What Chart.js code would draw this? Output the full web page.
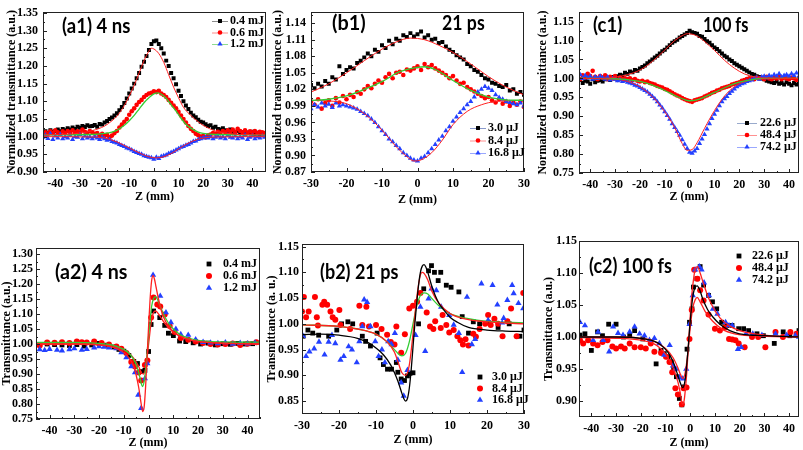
<!DOCTYPE html>
<html>
<head>
<meta charset="utf-8">
<script src="https://cdn.jsdelivr.net/npm/chart.js@4.4.1/dist/chart.umd.min.js"></script>
<style>
  body { margin: 0; background: #fff; }
  #wrap { position: relative; width: 803px; height: 450px; overflow: hidden; background: #fff; }
  canvas { position: absolute; }
  .tag { position: absolute; font-family: Lato, "Open Sans", sans-serif; font-weight: bold; font-size: 21px; line-height: 22px; color: #000; white-space: nowrap; transform-origin: 0 50%; }
</style>
</head>
<body>
<div id="wrap">
  <canvas id="a1" width="270" height="218" style="left:0px;top:0px"></canvas>
  <canvas id="b1" width="270" height="218" style="left:265px;top:0px"></canvas>
  <canvas id="c1" width="273" height="218" style="left:530px;top:0px"></canvas>
  <canvas id="a2" width="270" height="228" style="left:0px;top:225px"></canvas>
  <canvas id="b2" width="270" height="228" style="left:265px;top:225px"></canvas>
  <canvas id="c2" width="273" height="228" style="left:530px;top:225px"></canvas>
  <div class="tag" data-w="68" style="left:62px;top:14px">(a1) 4 ns</div>
  <div class="tag" data-w="34" style="left:332px;top:11px">(b1)</div>
  <div class="tag" data-w="43" style="left:442px;top:11px">21 ps</div>
  <div class="tag" data-w="29" style="left:593px;top:13px">(c1)</div>
  <div class="tag" data-w="45" style="left:703px;top:13px">100 fs</div>
  <div class="tag" data-w="72" style="left:55px;top:260px">(a2) 4 ns</div>
  <div class="tag" data-w="78" style="left:320px;top:260px">(b2) 21 ps</div>
  <div class="tag" data-w="83" style="left:589px;top:254px">(c2) 100 fs</div>
</div>
<script>
// ---- data ----
const zTop = [-45,-44,-43,-42,-41,-40,-39,-38,-37,-36,-35,-34,-33,-32,-31,-30,-29,-28,-27,-26,
  -25,-24,-23,-22,-21,-20,-19,-18,-17,-16,-15,-14,-13,-12,-11,-10,-9,-8,-7,-6,
  -5,-4,-3,-2,-1,0,1,2,3,4,5,6,7,8,9,10,11,12,13,14,15,16,17,18,19,20,21,22,23,24,
  25,26,27,28,29,30,31,32,33,34,35,36,37,38,39,40,41,42,43,44,45];
const zB1 = [-30,-29,-28,-27,-26,-25,-24,-23,-22,-21,-20,-19,-18,-17,-16,-15,-14,-13,-12,-11,
  -10,-9,-8,-7,-6,-5,-4,-3,-2,-1,0,1,2,3,4,5,6,7,8,9,10,11,12,13,14,15,16,17,18,19,20,
  21,22,23,24,25,26,27,28,29,30];

const zTicksWide = [-40, -30, -20, -10, 0, 10, 20, 30, 40];
const zTicksNarrow = [-30, -20, -10, 0, 10, 20, 30];
const tTicksA1 = [0.90, 0.95, 1.00, 1.05, 1.10, 1.15, 1.20, 1.25, 1.30, 1.35];
const tTicksB1 = [0.87, 0.90, 0.93, 0.96, 0.99, 1.02, 1.05, 1.08, 1.11, 1.14];
const tTicksC1 = [0.75, 0.80, 0.85, 0.90, 0.95, 1.00, 1.05, 1.10, 1.15];
const tTicksA2 = [0.75, 0.80, 0.85, 0.90, 0.95, 1.00, 1.05, 1.10, 1.15, 1.20, 1.25, 1.30];
const tTicksB2 = [0.85, 0.90, 0.95, 1.00, 1.05, 1.10, 1.15];
const tTicksC2 = [0.90, 0.95, 1.00, 1.05, 1.10, 1.15];

const energyA = ["0.4 mJ", "0.6 mJ", "1.2 mJ"];
const energyB = ["3.0 μJ", "8.4 μJ", "16.8 μJ"];
const energyC = ["22.6 μJ", "48.4 μJ", "74.2 μJ"];

// (a1) 4 ns, open aperture
const a1T04 = [1.012,1.015,1.010,1.018,1.014,1.016,1.020,1.015,1.022,1.018,
  1.024,1.020,1.026,1.022,1.028,1.025,1.030,1.027,1.032,1.029,
  1.030,1.033,1.028,1.036,1.034,1.040,1.044,1.050,1.054,1.060,
  1.066,1.075,1.084,1.095,1.108,1.122,1.136,1.150,1.165,1.180,
  1.198,1.212,1.228,1.245,1.262,1.270,1.272,1.262,1.250,1.235,
  1.215,1.200,1.180,1.165,1.148,1.130,1.115,1.100,1.088,1.078,
  1.068,1.060,1.055,1.048,1.042,1.040,1.035,1.030,1.032,1.025,
  1.028,1.022,1.020,1.024,1.018,1.016,1.020,1.014,1.012,1.016,
  1.010,1.013,1.008,1.012,1.010,1.014,1.008,1.011,1.006,1.010,1.008];
const a1T06 = [1.005,1.012,1.008,1.015,1.010,1.018,1.012,1.008,1.015,1.010,
  1.016,1.012,1.018,1.010,1.015,1.012,1.020,1.014,1.010,1.016,
  1.012,1.008,1.010,1.004,1.008,1.002,1.005,0.998,1.003,1.010,
  1.016,1.026,1.034,1.042,1.050,1.062,1.072,1.080,1.090,1.098,
  1.104,1.112,1.118,1.122,1.124,1.128,1.126,1.130,1.122,1.118,
  1.112,1.104,1.096,1.088,1.080,1.070,1.060,1.050,1.040,1.030,
  1.022,1.016,1.008,1.004,1.000,1.002,0.998,1.004,1.006,1.010,
  1.008,1.014,1.010,1.016,1.012,1.018,1.014,1.020,1.012,1.022,
  1.016,1.012,1.018,1.010,1.015,1.012,1.016,1.010,1.014,1.012,1.010];
const a1T12 = [0.998,1.004,0.995,1.008,0.992,1.002,0.996,1.006,0.994,1.000,
  0.996,1.004,0.992,1.000,0.998,1.006,0.994,1.002,0.996,1.000,
  0.994,1.000,0.996,0.992,0.998,0.994,0.990,0.992,0.986,0.984,
  0.982,0.978,0.975,0.972,0.968,0.966,0.962,0.958,0.955,0.952,
  0.950,0.946,0.944,0.942,0.940,0.936,0.942,0.938,0.944,0.946,
  0.948,0.952,0.955,0.958,0.962,0.966,0.970,0.972,0.976,0.978,
  0.982,0.986,0.988,0.992,0.994,0.996,0.998,0.996,1.000,0.994,
  0.998,1.002,0.996,1.000,0.994,1.004,0.998,0.996,1.002,0.994,
  1.000,0.996,1.004,0.992,0.998,1.002,0.994,1.000,0.996,1.002,0.998];
const a1FitZ04 = [-45,-35,-30,-25,-20,-17,-15,-12,-10,-8,-6,-4,-2,-1,0,2,4,6,8,10,12,15,18,20,25,30,35,45];
const a1FitT04 = [1.005,1.007,1.010,1.017,1.030,1.045,1.058,1.088,1.115,1.145,1.180,1.215,1.242,1.250,1.248,1.235,1.210,1.175,1.140,1.110,1.083,1.060,1.042,1.032,1.016,1.009,1.006,1.005];
const a1FitZ06 = [-45,-25,-20,-17,-15,-12,-10,-8,-6,-4,-2,0,1.5,3,5,7,9,11,13,15,18,20,25,45];
const a1FitT06 = [1.005,1.006,1.009,1.013,1.018,1.032,1.045,1.060,1.078,1.096,1.110,1.121,1.124,1.120,1.108,1.090,1.072,1.052,1.035,1.024,1.013,1.009,1.006,1.005];
const a1FitZ12 = [-45,-25,-20,-15,-10,-5,-2,1,4,7,10,13,16,20,25,45];
const a1FitT12 = [1.000,0.999,0.996,0.985,0.968,0.951,0.943,0.940,0.943,0.952,0.965,0.978,0.988,0.996,0.999,1.000];

// (b1) 21 ps
const b1T30 = [1.028,1.022,1.030,1.025,1.035,1.030,1.042,1.038,1.062,1.048,
  1.055,1.060,1.058,1.068,1.072,1.078,1.085,1.080,1.092,1.088,
  1.100,1.095,1.108,1.102,1.112,1.108,1.118,1.115,1.122,1.116,
  1.120,
  1.125,1.114,1.118,1.110,1.112,1.104,1.106,1.098,1.092,1.088,
  1.082,1.078,1.074,1.066,1.062,1.055,1.052,1.046,1.040,1.038,
  1.032,1.030,1.026,1.024,1.028,1.018,1.020,1.012,1.015,1.010];
const b1T84 = [0.998,0.992,1.002,0.985,0.995,1.000,0.990,1.004,0.996,1.008,
  1.002,1.010,1.006,1.015,1.012,1.020,1.026,1.022,1.030,1.036,
  1.032,1.042,1.048,1.040,1.050,1.052,1.046,1.056,1.054,1.058,
  1.062,
  1.055,1.066,1.060,1.064,1.058,1.054,1.050,1.046,1.040,1.044,
  1.036,1.030,1.032,1.024,1.020,1.016,1.012,1.008,1.004,1.006,
  1.000,0.996,1.002,0.994,0.998,0.990,0.996,0.992,0.998,0.988];
const b1T168 = [0.985,0.992,0.988,0.995,0.990,0.993,0.987,0.995,0.990,0.992,
  0.990,0.988,0.986,0.984,0.980,0.976,0.972,0.966,0.960,0.952,
  0.945,0.938,0.930,0.925,0.918,0.912,0.905,0.900,0.895,0.892,
  0.890,
  0.895,0.898,0.905,0.912,0.920,0.928,0.935,0.945,0.952,0.962,
  0.970,0.978,0.985,0.992,0.998,1.006,1.015,1.020,1.025,1.022,
  1.018,1.010,1.005,1.002,0.998,0.996,0.994,0.992,0.995,0.990];
const b1FitZ30 = [-30,-25,-20,-15,-10,-6,-2,2,6,10,15,20,25,30];
const b1FitT30 = [1.015,1.030,1.050,1.072,1.093,1.106,1.113,1.110,1.100,1.087,1.066,1.043,1.024,1.010];
const b1FitZ84 = [-30,-25,-20,-15,-10,-5,0,2,5,10,15,20,25,30];
const b1FitT84 = [1.000,1.002,1.008,1.020,1.034,1.052,1.060,1.061,1.056,1.036,1.018,1.006,1.001,1.000];
const b1FitZ168 = [-30,-25,-20,-15,-10,-6,-3,-1,1,4,7,10,14,18,22,30];
const b1FitT168 = [1.000,0.999,0.994,0.976,0.946,0.916,0.898,0.890,0.892,0.905,0.928,0.956,0.980,0.992,0.998,1.000];

// (c1) 100 fs
const c1T226 = [0.990,0.996,0.988,0.994,0.992,0.986,0.998,0.990,0.994,0.996,
  0.992,0.998,1.000,0.996,1.004,1.000,1.006,1.010,1.008,1.015,
  1.012,1.018,1.016,1.022,1.020,1.026,1.030,1.034,1.040,1.045,
  1.050,1.055,1.060,1.066,1.072,1.076,1.082,1.088,1.094,1.098,
  1.102,1.108,1.112,1.116,1.120,1.126,1.122,1.120,1.118,1.112,
  1.110,1.104,1.098,1.094,1.088,1.082,1.078,1.072,1.066,1.060,
  1.056,1.050,1.046,1.040,1.036,1.032,1.028,1.024,1.020,1.016,
  1.012,1.010,1.006,1.004,1.000,0.998,0.994,0.992,0.990,0.988,
  0.992,0.986,0.988,0.984,0.990,0.986,0.982,0.988,0.984,0.986,0.984];
const c1T484 = [1.004,0.998,1.008,1.002,1.012,1.006,1.020,1.004,0.998,1.006,
  1.002,1.008,0.998,1.004,1.000,1.006,0.996,1.002,0.998,1.000,
  0.998,1.000,0.996,0.998,0.994,0.992,0.994,0.990,0.992,0.988,
  0.986,0.984,0.980,0.978,0.976,0.972,0.970,0.966,0.962,0.958,
  0.955,0.952,0.948,0.945,0.942,0.940,0.938,0.942,0.944,0.946,
  0.948,0.952,0.955,0.958,0.962,0.964,0.968,0.970,0.974,0.976,
  0.978,0.980,0.984,0.986,0.988,0.990,0.994,0.996,0.998,1.000,
  1.000,0.998,1.002,1.000,1.002,0.998,1.004,1.000,0.998,1.002,
  1.000,1.004,0.998,1.002,1.000,0.998,1.002,1.000,0.996,1.000,1.002];
const c1T742 = [1.004,1.010,1.000,1.008,1.002,1.006,0.998,1.004,1.000,1.006,
  1.002,0.998,1.004,0.996,1.000,0.998,0.994,0.996,0.992,0.994,
  0.990,0.988,0.986,0.982,0.980,0.976,0.972,0.968,0.964,0.958,
  0.952,0.946,0.938,0.930,0.922,0.912,0.902,0.892,0.880,0.870,
  0.860,0.850,0.838,0.826,0.815,0.805,0.802,0.808,0.815,0.828,
  0.840,0.852,0.866,0.880,0.894,0.905,0.916,0.928,0.938,0.946,
  0.952,0.960,0.966,0.972,0.978,0.982,0.986,0.988,0.992,0.994,
  0.996,1.000,1.002,0.998,1.004,1.006,1.002,1.008,1.004,1.010,
  1.006,1.012,1.004,1.008,1.010,1.006,1.012,1.008,1.014,1.006,1.010];
const c1FitZ226 = [-45,-35,-30,-25,-20,-15,-10,-6,-3,-1,1,4,7,10,14,18,22,26,30,45];
const c1FitT226 = [1.000,1.000,1.003,1.010,1.022,1.045,1.075,1.100,1.113,1.118,1.117,1.108,1.092,1.074,1.048,1.027,1.012,1.004,1.001,1.000];
const c1FitZ484 = [-45,-30,-25,-20,-15,-10,-5,-2,0,2,5,10,15,20,25,30,45];
const c1FitT484 = [1.000,0.999,0.997,0.992,0.982,0.968,0.952,0.944,0.941,0.942,0.948,0.963,0.978,0.990,0.997,1.000,1.000];
const c1FitZ742 = [-45,-30,-25,-20,-15,-10,-6,-3,-1,1,3,6,10,14,18,22,27,32,45];
const c1FitT742 = [1.000,0.998,0.992,0.978,0.952,0.912,0.870,0.828,0.810,0.812,0.830,0.868,0.915,0.953,0.978,0.991,0.998,1.000,1.000];

// (a2) 4 ns, closed aperture
const a2Z04 = [-44,-41,-38,-35,-32,-29,-26,-23,-20,-17,-14,-12,-10,-8,-6,-4.5,-3,-1.5,0,1,2,4.5,6.5,8,10,12.5,15,18,21,24,27,30,33,36,39,42];
const a2T04 = [0.998,1.000,0.998,0.997,0.995,0.998,0.993,0.997,1.002,0.996,0.990,0.982,0.976,0.962,0.942,0.935,0.908,0.912,0.975,1.065,1.110,1.088,1.062,1.036,1.028,1.010,1.008,1.004,1.000,1.003,0.997,1.001,0.999,1.002,1.000,1.001];
const a2Z06 = [-44,-41,-38,-35,-32,-29,-27,-25,-22,-19,-16,-13,-11,-9,-7,-5.5,-4,-3,-1.5,-0.5,1,2,3.5,4.7,6.5,8.5,10.5,13,16,19,22,25,28,31,34,37,40,43.5];
const a2T06 = [0.995,1.005,1.004,1.006,1.003,1.008,1.006,1.005,1.008,1.003,0.998,0.992,0.984,0.970,0.940,0.925,0.905,0.878,0.930,0.945,1.088,1.155,1.132,1.125,1.098,1.060,1.040,1.020,1.014,1.008,1.003,1.000,0.998,1.000,1.002,0.997,1.001,1.006];
const a2Z12 = [-44,-42,-40,-37,-35,-32,-30,-27,-25,-22,-20,-18,-16,-13,-11,-9,-7,-5.5,-4.2,-3,-1.5,-0.5,1.8,4.7,7,9,11,13,16,19,22,25,28,31,34,37,40,43];
const a2T12 = [0.982,0.979,0.983,0.980,0.978,0.982,0.985,0.980,0.983,0.988,0.992,0.990,0.988,0.985,0.972,0.955,0.925,0.905,0.830,0.786,0.885,0.935,1.230,1.160,1.105,1.072,1.050,1.032,1.030,1.015,1.006,1.004,1.002,1.005,1.000,1.003,1.001,1.004];
const a2FitZ12 = [-45,-30,-20,-15,-10,-8,-6,-5,-4,-3,-2.4,-1.8,-1.2,-0.6,0,0.6,1.2,1.8,2.4,3,4,5,6,8,10,13,16,20,25,30,45];
const a2FitT12 = [1.000,1.000,0.997,0.990,0.972,0.955,0.925,0.895,0.855,0.800,0.775,0.790,0.860,0.960,1.060,1.150,1.210,1.228,1.215,1.190,1.150,1.115,1.090,1.060,1.040,1.025,1.016,1.009,1.005,1.003,1.000];
const a2FitZ06 = [-45,-30,-20,-15,-10,-8,-6,-5,-4,-3,-2.5,-1.8,-1,-0.3,0.5,1.2,2,2.8,3.5,4.5,6,8,10,13,16,20,25,45];
const a2FitT06 = [1.005,1.005,1.002,0.997,0.982,0.970,0.948,0.930,0.905,0.870,0.858,0.875,0.930,1.000,1.070,1.125,1.152,1.158,1.150,1.130,1.100,1.070,1.050,1.030,1.020,1.012,1.008,1.006];
const a2FitZ04 = [-45,-30,-20,-15,-10,-8,-6,-4,-3,-2,-1,0,1,2,2.8,4,6,8,10,13,16,20,30,45];
const a2FitT04 = [1.000,1.000,0.998,0.994,0.980,0.970,0.952,0.925,0.905,0.900,0.930,1.000,1.070,1.105,1.110,1.100,1.075,1.055,1.040,1.025,1.015,1.008,1.003,1.000];

// (b2) 21 ps
const b2Z30 = [-29.7,-28.4,-27.1,-25.5,-22.8,-20.6,-19.3,-17.6,-16.3,-13.7,-12.8,-11.5,-9.7,-8.9,-8,-6.9,-5.8,-4.5,-4.1,-3.2,-2.3,-1.5,-0.8,0,1.5,2.9,4.2,5,5.8,6.8,7.5,9,10.3,12.4,13.3,15,16.3,18,20.5,23,26,28.9,30];
const b2T30 = [0.976,0.988,0.982,0.978,0.976,0.988,1.000,1.004,1.000,0.976,0.966,0.957,0.982,0.934,0.921,0.912,0.912,0.925,0.906,0.893,0.890,0.899,0.904,0.905,1.000,1.068,1.103,1.113,1.100,1.084,1.100,1.075,1.071,1.062,1.014,0.982,1.004,1.000,1.002,0.993,1.000,0.976,0.988];
const b2Z84 = [-30,-29.5,-28.9,-28.2,-26.5,-26,-25.7,-24.5,-24,-23.2,-22.3,-21.7,-21,-19.9,-19.6,-17,-14.5,-13.7,-12.6,-11.9,-10,-8.5,-7,-6,-5,-4.5,-3.2,-2.2,-1,0,1.1,2,3.7,4.6,5.5,6,7.5,8,9,9.8,11,12,12.8,13.5,14.2,15,16.3,17,18,19.5,20.3,21,22,23,24.2,25.5,26.5,28,29.8];
const b2T84 = [1.024,1.052,1.013,1.024,1.052,1.013,0.997,1.037,1.043,1.037,1.024,1.013,1.008,1.027,0.998,0.990,1.035,0.998,1.033,0.995,0.998,0.990,0.979,0.965,0.960,0.995,0.944,0.980,1.030,1.035,1.043,1.060,1.022,0.995,0.990,1.005,0.992,1.017,0.998,0.983,0.988,0.976,0.968,0.960,0.970,0.958,0.981,0.975,0.990,1.000,1.017,0.998,1.010,1.000,0.976,1.005,1.030,0.976,1.060];
const b2Z168 = [-29.7,-28.9,-28,-26.7,-25.4,-23.9,-22.8,-21.9,-21,-19.6,-18.7,-17.4,-16.5,-15.2,-14.5,-13.7,-13.2,-12.4,-11.5,-10.2,-9.3,-8.4,-7.6,-6.7,-5.8,-4.9,-4.1,-3.2,-2.5,-1.5,0.7,2,3.3,4.2,5,6.3,7.6,9.8,11,12.4,13.3,14.6,15.9,16.8,18.5,20.3,21.5,22.8,24.1,24.5,25.5,26.8,27.2,28.5,29.8];
const b2T168 = [0.976,0.937,0.946,0.952,0.965,0.940,0.965,0.978,0.962,0.930,0.937,0.956,0.950,0.925,0.966,0.995,1.047,1.042,0.995,0.966,0.937,0.950,0.925,0.966,0.960,0.982,0.930,0.886,0.860,0.910,0.978,1.033,0.947,1.049,1.068,1.065,1.033,1.017,0.998,0.982,0.906,1.052,0.960,0.970,1.078,1.007,1.075,1.037,1.002,1.011,1.046,1.075,1.059,1.040,1.030];
const b2FitZ30 = [-30,-25,-20,-15,-12,-10,-8,-6,-5,-4,-3,-2.5,-2,-1.5,-1,-0.5,0,0.5,1,1.5,2,2.5,3,3.5,4,5,6,7,8,10,12,15,20,25,30];
const b2FitT30 = [0.979,0.980,0.978,0.972,0.963,0.953,0.940,0.920,0.905,0.887,0.865,0.855,0.850,0.855,0.875,0.910,0.955,1.000,1.040,1.075,1.100,1.112,1.115,1.110,1.100,1.075,1.055,1.040,1.030,1.013,1.003,0.993,0.988,0.986,0.985];
const b2FitZ84 = [-30,-20,-15,-10,-7,-5,-4,-3,-2,-1,0,1,2,2.5,3,4,5,7,10,15,20,30];
const b2FitT84 = [0.998,0.995,0.990,0.980,0.965,0.945,0.925,0.905,0.900,0.920,0.980,1.050,1.095,1.100,1.098,1.085,1.065,1.040,1.020,1.008,1.004,1.000];
const b2FitZ168 = [-30,-20,-15,-10,-7,-5,-4,-3,-2,-1,0,1,2,3,4,5,7,10,15,20,30];
const b2FitT168 = [0.998,0.995,0.990,0.980,0.965,0.950,0.942,0.938,0.943,0.965,1.000,1.035,1.055,1.060,1.058,1.050,1.035,1.020,1.010,1.005,1.002];

// (c2) 100 fs
const c2Z226 = [-44.6,-42.6,-40,-37.5,-35.5,-33,-30,-27,-24.5,-22.5,-19.2,-16,-13.8,-11.8,-10.5,-9,-7.7,-6.7,-5.6,-4.4,-3.4,-2.4,-1.3,-0.3,0.7,1.3,2.7,4,5.4,7.4,9,10.7,12.7,14.8,16.9,19.6,21.6,23.6,27,29.6,34,37.6,40.3,44];
const c2T226 = [1.003,1.005,0.979,1.008,1.002,1.020,1.020,1.000,1.003,1.010,0.997,0.992,0.958,0.979,0.974,0.969,0.961,0.950,0.938,0.904,0.894,0.922,0.981,1.023,1.044,1.078,1.091,1.110,1.081,1.065,1.055,1.044,1.023,1.018,1.018,1.013,1.013,1.010,1.005,1.002,0.990,1.008,1.002,1.010];
const c2Z484 = [-44.6,-43.3,-41.3,-39.3,-37.5,-35.5,-33.5,-31.5,-30,-28,-26.5,-24.5,-22.5,-20,-18,-16,-14.5,-11.8,-9.8,-8.4,-7.3,-6,-5,-3.4,-2.7,-1.5,-0.3,0.6,1.6,2.9,4,5.4,7.4,10,12,14,15.7,17,18.3,19.6,22,25,27.5,30.4,34.5,37.5,40.5,43];
const c2T484 = [0.995,0.990,0.995,0.990,0.987,0.992,0.995,0.985,0.982,0.985,0.982,0.990,0.984,0.984,0.982,0.990,0.977,0.975,0.969,0.961,0.945,0.920,0.910,0.895,0.920,0.921,0.997,1.042,1.105,1.091,1.073,1.057,1.035,1.013,1.010,1.015,0.997,0.996,0.995,0.990,0.984,1.000,1.000,0.984,1.008,1.000,1.008,1.005];
const c2Z742 = [-44.6,-42.6,-39.3,-37.3,-35.2,-32.8,-31.2,-29.2,-27.2,-24.5,-22.5,-20.5,-18.5,-16.5,-14.5,-12.5,-10.5,-8.3,-7,-5.8,-4.4,-3,-1.6,-0.3,1,2,3.7,4.6,5.6,7.6,9.2,11,14.3,15.7,17,19.3,20.6,22.6,25.3,29,34.5,39,42.5,44];
const c2T742 = [1.023,1.018,0.995,1.008,0.995,0.977,1.016,1.006,1.003,1.008,1.016,1.005,1.002,0.995,0.998,0.990,0.972,0.987,0.955,0.950,0.937,0.935,0.950,1.020,1.065,1.105,1.110,1.105,1.085,1.065,1.044,1.036,1.023,1.018,1.018,0.981,0.984,1.005,1.005,1.003,1.005,1.003,1.002,1.000];
const c2FitZ226 = [-45,-30,-20,-15,-12,-9,-7,-5,-4,-3,-2,-1,0,1,2,2.8,4,5,7,9,12,16,20,30,45];
const c2FitT226 = [1.000,1.000,0.998,0.994,0.988,0.976,0.962,0.940,0.928,0.921,0.935,0.975,1.025,1.062,1.078,1.080,1.072,1.060,1.043,1.032,1.020,1.010,1.005,1.002,1.000];
const c2FitZ484 = [-45,-30,-20,-15,-12,-9,-7,-5,-4,-3.2,-2.5,-1.5,-0.5,0.5,1.5,2.2,3,4,5,7,9,12,16,20,30,45];
const c2FitT484 = [0.999,0.998,0.995,0.990,0.982,0.968,0.952,0.930,0.912,0.895,0.900,0.940,1.000,1.060,1.095,1.108,1.110,1.100,1.088,1.065,1.048,1.030,1.017,1.010,1.003,1.000];
const c2FitZ742 = [-45,-30,-20,-15,-10,-7,-5,-4,-3,-2,-1,0,1,2,2.8,4,6,9,13,18,25,45];
const c2FitT742 = [1.000,1.000,0.998,0.994,0.982,0.968,0.952,0.942,0.935,0.945,0.975,1.015,1.045,1.058,1.062,1.055,1.040,1.025,1.012,1.005,1.002,1.000];

// ---- drawing ----
const SERIF = '"Liberation Serif", "Times New Roman", serif';
const STYLES = ["rect", "circle", "triangle"];
const COLORS = ["#000000", "#ff0000", "#2340ff"];
const RED = "#ff2020", GREEN = "#33cc33", BLACK = "#000000";

function pts(xs, ys) {
  return xs.map((x, i) => ({ x: x, y: ys[i] }));
}

function mark(ctx, style, x, y, r, color) {
  ctx.fillStyle = color;
  ctx.beginPath();
  if (style === "rect") {
    const s = r * Math.SQRT1_2;
    ctx.rect(x - s, y - s, 2 * s, 2 * s);
  } else if (style === "circle") {
    ctx.arc(x, y, r, 0, Math.PI * 2);
  } else {
    ctx.moveTo(x, y - r);
    ctx.lineTo(x + r * 0.866, y + r * 0.5);
    ctx.lineTo(x - r * 0.866, y + r * 0.5);
    ctx.closePath();
  }
  ctx.fill();
}

// box round the plot and small inward ticks
const framePlugin = {
  id: "frame",
  afterDatasetsDraw(chart) {
    const { ctx, chartArea: a, scales } = chart;
    const x = scales.x, y = scales.y;
    ctx.save();
    ctx.strokeStyle = "#222";
    ctx.lineWidth = 1;
    ctx.strokeRect(Math.round(a.left) + 0.5, Math.round(a.top) + 0.5, Math.round(a.right - a.left) - 1, Math.round(a.bottom - a.top) - 1);
    ctx.beginPath();
    const xs = x.ticks.map(t => t.value);
    const xh = (xs[1] - xs[0]) / 2;
    xs.forEach(v => {
      const p = Math.round(x.getPixelForValue(v)) + 0.5;
      ctx.moveTo(p, a.bottom); ctx.lineTo(p, a.bottom - 4);
      [v - xh, v + xh].forEach(m => {
        if (m >= x.min && m <= x.max) {
          const q = Math.round(x.getPixelForValue(m)) + 0.5;
          ctx.moveTo(q, a.bottom); ctx.lineTo(q, a.bottom - 2);
        }
      });
    });
    const ys = y.ticks.map(t => t.value);
    const yh = (ys[1] - ys[0]) / 2;
    ys.forEach(v => {
      const p = Math.round(y.getPixelForValue(v)) + 0.5;
      ctx.moveTo(a.left, p); ctx.lineTo(a.left + 4, p);
      const m = v + yh;
      if (m <= y.max) {
        const q = Math.round(y.getPixelForValue(m)) + 0.5;
        ctx.moveTo(a.left, q); ctx.lineTo(a.left + 2, q);
      }
    });
    ctx.stroke();
    ctx.restore();
  }
};

const legendPlugin = {
  id: "inLegend",
  afterDraw(chart, args, opts) {
    if (!opts || opts.x === undefined) return;
    const ctx = chart.ctx;
    ctx.save();
    chart.data.datasets.filter(d => d.label).forEach((d, i) => {
      const y = opts.y + i * opts.dy;
      if (d.legendLine) {
        ctx.strokeStyle = d.legendLine;
        ctx.lineWidth = 1;
        ctx.beginPath();
        ctx.moveTo(opts.x - opts.half, y + 0.5);
        ctx.lineTo(opts.x + opts.half, y + 0.5);
        ctx.stroke();
      }
      mark(ctx, d.pointStyle, opts.x, y, d.pointRadius, d.backgroundColor);
      ctx.fillStyle = "#000";
      ctx.font = "bold 12px " + SERIF;
      ctx.textBaseline = "middle";
      ctx.textAlign = "left";
      ctx.fillText(d.label, opts.tx, y);
    });
    ctx.restore();
  }
};

function drawPanel(p) {
  const datasets = p.series.map((s, i) => ({
    label: p.labels[i],
    data: pts(s[0], s[1]),
    pointStyle: STYLES[i],
    pointRadius: p.radii[i],
    backgroundColor: COLORS[i],
    pointBackgroundColor: COLORS[i],
    borderColor: COLORS[i],
    pointBorderWidth: 0,
    borderWidth: 0,
    showLine: false,
    order: 3 - i,
    legendLine: p.legendLines ? p.legendLines[i] : null
  }));
  p.fits.forEach(f => datasets.push({
    data: pts(f[0], f[1]),
    showLine: true,
    pointRadius: 0,
    borderColor: f[2],
    borderWidth: f[3] || 1,
    cubicInterpolationMode: "monotone",
    order: 0
  }));

  const tickFont = { family: SERIF, weight: "bold", size: 12 };
  const titleFont = { family: SERIF, weight: "bold", size: 12, lineHeight: 1 };

  new Chart(document.getElementById(p.id), {
    type: "scatter",
    data: { datasets: datasets },
    plugins: [framePlugin, legendPlugin],
    options: {
      responsive: false,
      animation: false,
      devicePixelRatio: 1,
      layout: { padding: { left: 0, right: p.padR, top: p.padT, bottom: 0 } },
      plugins: { legend: { display: false }, tooltip: { enabled: false }, inLegend: p.legend },
      scales: {
        x: {
          type: "linear", min: p.xMin, max: p.xMax,
          afterBuildTicks: s => { s.ticks = p.xTicks.map(v => ({ value: v })); },
          afterFit: s => { s.height = p.xH; },
          grid: { display: false, drawTicks: false }, border: { display: false },
          ticks: { font: tickFont, color: "#000", padding: 5, maxRotation: 0, autoSkip: false, callback: v => String(v) },
          title: { display: true, text: "Z (mm)", color: "#000", font: titleFont, padding: { top: 0, bottom: p.xTitlePad } }
        },
        y: {
          type: "linear", min: p.yMin, max: p.yMax,
          afterBuildTicks: s => { s.ticks = p.yTicks.map(v => ({ value: v })); },
          afterFit: s => { s.width = p.yW; },
          grid: { display: false, drawTicks: false }, border: { display: false },
          ticks: { font: tickFont, color: "#000", padding: p.yPad, autoSkip: false, callback: v => v.toFixed(2) },
          title: { display: true, text: p.yTitle, color: "#000", font: titleFont, padding: { top: p.yTitlePad, bottom: 0 } }
        }
      }
    }
  });
}

const NT = "Normalized transmittance (a.u.)";
const SMALL = [2.8, 2.3, 3.0];
const BIG = [3.4, 3.0, 3.6];

drawPanel({
  id: "a1", padR: 4, padT: 5, yW: 43, xH: 46, yPad: 5, yTitlePad: 6, xTitlePad: 15,
  xMin: -45, xMax: 45.5, yMin: 0.90, yMax: 1.352, xTicks: zTicksWide, yTicks: tTicksA1, yTitle: NT,
  labels: energyA, radii: SMALL, legendLines: ["#8c8c8c", "#ff8a8a", "#8fdc8f"],
  series: [[zTop, a1T04], [zTop, a1T06], [zTop, a1T12]],
  fits: [[a1FitZ04, a1FitT04, RED], [a1FitZ06, a1FitT06, GREEN, 1.3], [a1FitZ12, a1FitT12, RED]],
  legend: { x: 220, half: 8, tx: 230, y: 21, dy: 11.5 }
});
drawPanel({
  id: "b1", padR: 2, padT: 9, yW: 46, xH: 46, yPad: 5, yTitlePad: 7, xTitlePad: 12,
  xMin: -30, xMax: 30, yMin: 0.87, yMax: 1.16, xTicks: zTicksNarrow, yTicks: tTicksB1, yTitle: NT,
  labels: energyB, radii: SMALL, legendLines: ["#8899cc", "#ff9090", "#9aa8ff"],
  series: [[zB1, b1T30], [zB1, b1T84], [zB1, b1T168]],
  fits: [[b1FitZ30, b1FitT30, RED], [b1FitZ84, b1FitT84, GREEN, 1.3], [b1FitZ168, b1FitT168, RED]],
  legend: { x: 213, half: 8, tx: 223, y: 128, dy: 12.5 }
});
drawPanel({
  id: "c1", padR: 4, padT: 8, yW: 49, xH: 45, yPad: 5, yTitlePad: 7, xTitlePad: 15,
  xMin: -44.5, xMax: 44, yMin: 0.75, yMax: 1.175, xTicks: zTicksWide, yTicks: tTicksC1, yTitle: NT,
  labels: energyC, radii: SMALL, legendLines: ["#99aacc", "#ff9090", "#9aa8ff"],
  series: [[zTop, c1T226], [zTop, c1T484], [zTop, c1T742]],
  fits: [[c1FitZ226, c1FitT226, RED], [c1FitZ484, c1FitT484, GREEN, 1.3], [c1FitZ742, c1FitT742, RED]],
  legend: { x: 217, half: 10, tx: 230, y: 123, dy: 12 }
});
drawPanel({
  id: "a2", padR: 10, padT: 23, yW: 36, xH: 34, yPad: 3, yTitlePad: 1, xTitlePad: 4,
  xMin: -45.5, xMax: 45, yMin: 0.75, yMax: 1.32, xTicks: zTicksWide, yTicks: tTicksA2, yTitle: "Transmittance (a.u.)",
  labels: energyA, radii: BIG,
  series: [[a2Z04, a2T04], [a2Z06, a2T06], [a2Z12, a2T12]],
  fits: [[a2FitZ12, a2FitT12, RED, 1.3], [a2FitZ06, a2FitT06, GREEN, 1.3], [a2FitZ04, a2FitT04, RED, 1.3]],
  legend: { x: 209, tx: 223, y: 39, dy: 12 }
});
drawPanel({
  id: "b2", padR: 2, padT: 19, yW: 37, xH: 39, yPad: 3, yTitlePad: 1, xTitlePad: 7,
  xMin: -30, xMax: 30, yMin: 0.825, yMax: 1.155, xTicks: zTicksNarrow, yTicks: tTicksB2, yTitle: "Transmittance (a. u.)",
  labels: energyB, radii: BIG,
  series: [[b2Z30, b2T30], [b2Z84, b2T84], [b2Z168, b2T168]],
  fits: [[b2FitZ30, b2FitT30, BLACK, 1.3], [b2FitZ84, b2FitT84, RED, 1.3], [b2FitZ168, b2FitT168, GREEN, 1.3]],
  legend: { x: 215, tx: 227, y: 152, dy: 11.5 }
});
drawPanel({
  id: "c2", padR: 3, padT: 16, yW: 49, xH: 36, yPad: 2, yTitlePad: 13, xTitlePad: 4,
  xMin: -45, xMax: 44, yMin: 0.875, yMax: 1.15, xTicks: zTicksWide, yTicks: tTicksC2, yTitle: "Transmittance (a.u.)",
  labels: energyC, radii: BIG,
  series: [[c2Z226, c2T226], [c2Z484, c2T484], [c2Z742, c2T742]],
  fits: [[c2FitZ226, c2FitT226, BLACK, 1.3], [c2FitZ484, c2FitT484, RED, 1.3], [c2FitZ742, c2FitT742, RED, 1.3]],
  legend: { x: 209, tx: 222, y: 31, dy: 12 }
});

// squeeze the panel tags to the widths measured on the figure
document.querySelectorAll(".tag").forEach(el => {
  const w = parseFloat(el.dataset.w);
  el.style.transform = "scaleX(" + (w / el.offsetWidth).toFixed(3) + ")";
});
</script>
</body>
</html>
